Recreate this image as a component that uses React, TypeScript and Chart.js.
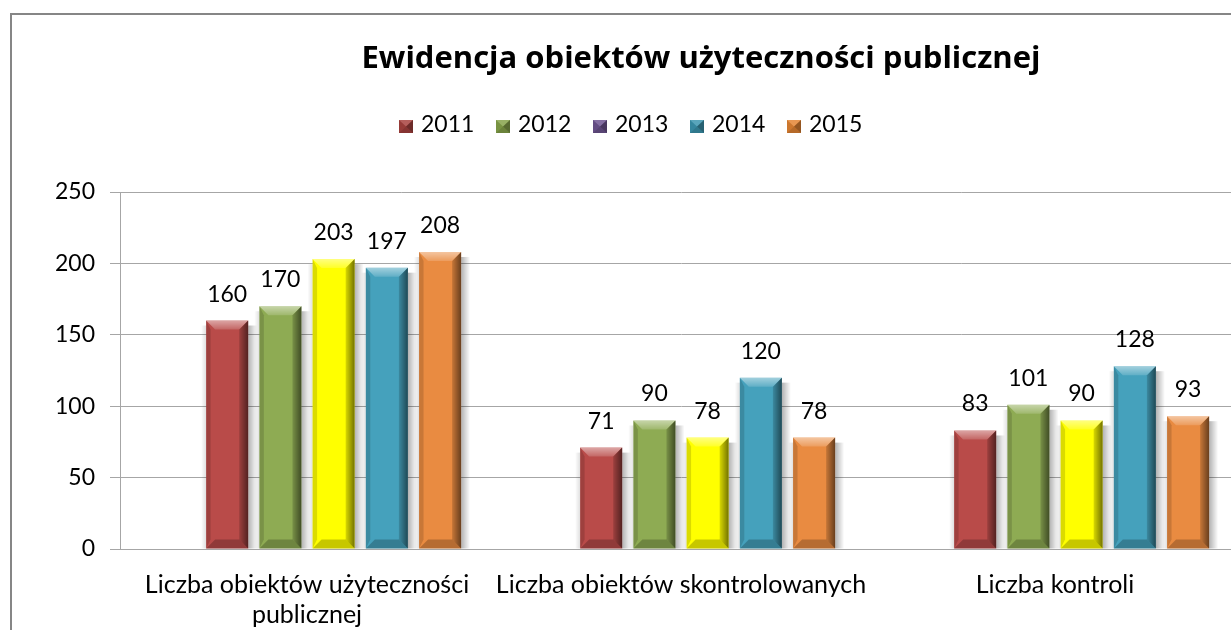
import React, { useEffect, useRef } from "react";
import { Chart, registerables } from "chart.js";

Chart.register(...registerables);

const chartTitle = "Ewidencja obiektów użyteczności publicznej";
const categories: (string | string[])[] = [
  ["Liczba obiektów użyteczności", "publicznej"],
  "Liczba obiektów skontrolowanych",
  "Liczba kontroli",
];
const seriesLabels = ["2011", "2012", "2013", "2014", "2015"];
const values2011 = [160, 71, 83];
const values2012 = [170, 90, 101];
const values2013 = [203, 78, 90];
const values2014 = [197, 120, 128];
const values2015 = [208, 78, 93];
const placeholderValues = [null, null, null];
const barColors = ["#B94B49", "#8EAB53", "#FFFF00", "#45A1BC", "#E98B41"];
const legendColors = ["#A8423F", "#86A44A", "#6F5592", "#3C96B0", "#E48534"];
const yMin = 0;
const yMax = 250;
const yStep = 50;

const FONT = "Lato";
const TITLE_FONT = "'Open Sans'";
const CANVAS_W = 1378;
const CANVAS_H = 640;

function poly(ctx: CanvasRenderingContext2D, pts: number[][], fill: any) {
  ctx.beginPath();
  ctx.moveTo(pts[0][0], pts[0][1]);
  for (let i = 1; i < pts.length; i++) ctx.lineTo(pts[i][0], pts[i][1]);
  ctx.closePath();
  ctx.fillStyle = fill;
  ctx.fill();
}

const bevelPlugin = {
  id: "bevel",
  beforeDatasetsDraw(chart: any) {
    const ctx = chart.ctx as CanvasRenderingContext2D;
    ctx.save();
    chart.data.datasets.forEach((ds: any, i: number) => {
      const meta = chart.getDatasetMeta(i);
      meta.data.forEach((el: any, j: number) => {
        if (ds.data[j] == null) return;
        const { x, y, base, width } = el.getProps(["x", "y", "base", "width"], true);
        const r = x + width / 2;
        const l = x - width / 2;
        const g = ctx.createLinearGradient(r, 0, r + 9, 0);
        g.addColorStop(0, "rgba(0,0,0,0.30)");
        g.addColorStop(1, "rgba(0,0,0,0)");
        ctx.fillStyle = g;
        ctx.fillRect(r, y + 5, 9, base - y - 5);
        const g2 = ctx.createLinearGradient(l, 0, l - 5, 0);
        g2.addColorStop(0, "rgba(0,0,0,0.12)");
        g2.addColorStop(1, "rgba(0,0,0,0)");
        ctx.fillStyle = g2;
        ctx.fillRect(l - 5, y + 5, 5, base - y - 5);
      });
    });
    ctx.restore();
  },
  afterDatasetsDraw(chart: any) {
    const ctx = chart.ctx as CanvasRenderingContext2D;
    ctx.save();
    chart.data.datasets.forEach((ds: any, i: number) => {
      const meta = chart.getDatasetMeta(i);
      meta.data.forEach((el: any, j: number) => {
        const v = ds.data[j];
        if (v == null) return;
        const { x, y, base, width } = el.getProps(["x", "y", "base", "width"], true);
        const l = x - width / 2;
        const r = x + width / 2;
        const t = y;
        const b = base;
        const s = Math.min(9, (b - t) / 2);
        // top bevel
        const gt = ctx.createLinearGradient(0, t, 0, t + s);
        gt.addColorStop(0, "rgba(255,255,255,0.5)");
        gt.addColorStop(1, "rgba(255,255,255,0.15)");
        poly(ctx, [[l, t], [r, t], [r - s, t + s], [l + s, t + s]], gt);
        // right bevel
        const gr = ctx.createLinearGradient(r - s, 0, r, 0);
        gr.addColorStop(0, "rgba(0,0,0,0.15)");
        gr.addColorStop(1, "rgba(0,0,0,0.55)");
        poly(ctx, [[r, t], [r, b], [r - s, b - s], [r - s, t + s]], gr);
        // left bevel
        poly(ctx, [[l, t], [l + s * 0.5, t + s], [l + s * 0.5, b - s], [l, b]], "rgba(0,0,0,0.14)");
        // bottom bevel
        poly(ctx, [[l, b], [l + s, b - s], [r - s, b - s], [r, b]], "rgba(0,0,0,0.22)");
        // value label
        ctx.fillStyle = "#000";
        ctx.font = `23px ${FONT}`;
        ctx.textAlign = "center";
        ctx.textBaseline = "alphabetic";
        ctx.fillText(String(v), x, t - 19);
      });
    });
    ctx.restore();
  },
  afterDraw(chart: any) {
    const ctx = chart.ctx as CanvasRenderingContext2D;
    ctx.save();
    // title
    ctx.fillStyle = "#000";
    ctx.font = `bold 31px ${TITLE_FONT}`;
    ctx.textAlign = "center";
    ctx.textBaseline = "alphabetic";
    ctx.fillText(chartTitle, CANVAS_W / 2, 53);
    // legend
    ctx.font = `23px ${FONT}`;
    ctx.textAlign = "left";
    seriesLabels.forEach((lab, i) => {
      const mx = 387 + i * 97;
      const my = 105;
      const w = 14;
      const h = 13;
      const c = legendColors[i];
      ctx.fillStyle = c;
      ctx.fillRect(mx, my, w, h);
      const cx = mx + w / 2;
      const cy = my + h / 2;
      poly(ctx, [[mx, my], [mx + w, my], [cx, cy]], "rgba(255,255,255,0.15)");
      poly(ctx, [[mx + w, my], [mx + w, my + h], [cx, cy]], "rgba(0,0,0,0.35)");
      poly(ctx, [[mx, my + h], [mx + w, my + h], [cx, cy]], "rgba(0,0,0,0.2)");
      poly(ctx, [[mx, my], [mx, my + h], [cx, cy]], "rgba(0,0,0,0.1)");
      ctx.fillStyle = "#000";
      ctx.fillText(lab, mx + w + 8, 117);
    });
    ctx.restore();
  },
};

export default function App() {
  const ref = useRef<HTMLCanvasElement | null>(null);

  useEffect(() => {
    if (!ref.current) return;
    const seriesValues = [values2011, values2012, values2013, values2014, values2015];
    const datasets: any[] = [
      { label: "", data: placeholderValues, backgroundColor: "rgba(0,0,0,0)", borderWidth: 0 },
      ...seriesLabels.map((lab, i) => ({
        label: lab,
        data: seriesValues[i],
        backgroundColor: barColors[i],
        borderWidth: 0,
      })),
    ];
    const chart = new Chart(ref.current, {
      type: "bar",
      data: { labels: categories as any, datasets },
      options: {
        responsive: false,
        animation: false,
        devicePixelRatio: 1,
        layout: { padding: { top: 177, right: 148, bottom: 16, left: 0 } },
        datasets: {
          bar: { categoryPercentage: 0.854, barPercentage: 0.79 },
        } as any,
        plugins: {
          legend: { display: false },
          tooltip: { enabled: false },
          title: { display: false },
        },
        scales: {
          x: {
            afterFit: (scale: any) => {
              scale.height = 90;
            },
            grid: { display: false, drawTicks: false },
            border: { display: true, color: "#a6a6a6", width: 1 },
            ticks: {
              color: "#000",
              padding: 21,
              maxRotation: 0,
              autoSkip: false,
              font: { family: FONT, size: 25, lineHeight: 1.2 },
            },
          },
          y: {
            min: yMin,
            max: yMax,
            afterFit: (scale: any) => {
              scale.width = 108;
            },
            grid: { color: "#a6a6a6", tickLength: 10, drawTicks: true, lineWidth: 1 },
            border: { display: true, color: "#a6a6a6", width: 1 },
            ticks: {
              stepSize: yStep,
              color: "#000",
              padding: 15,
              font: { family: FONT, size: 23 },
            },
          },
        },
      },
      plugins: [bevelPlugin],
    });
    return () => chart.destroy();
  }, []);

  return (
    <div
      style={{
        position: "fixed",
        left: 0,
        top: 0,
        width: 1231,
        height: 630,
        overflow: "hidden",
        background: "#fff",
      }}
    >
      <div
        style={{
          position: "absolute",
          left: 10,
          top: 13,
          width: CANVAS_W,
          height: CANVAS_H,
          border: "2px solid #868686",
          background: "#fff",
        }}
      >
        <canvas
          ref={ref}
          width={CANVAS_W}
          height={CANVAS_H}
          style={{ display: "block", width: CANVAS_W, height: CANVAS_H }}
        />
      </div>
    </div>
  );
}
